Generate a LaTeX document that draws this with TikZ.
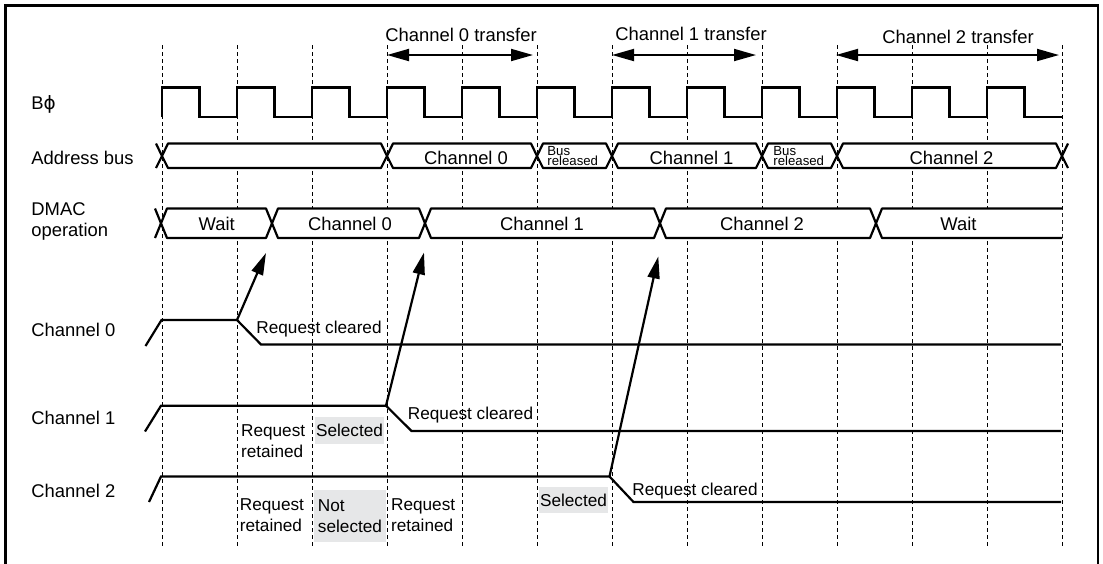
\documentclass[tikz,border=0pt]{standalone}
\usepackage{fontspec}
\setmainfont{Liberation Sans}
\newfontfamily\phifont{DejaVu Sans}
\usetikzlibrary{arrows.meta}
\definecolor{selgray}{HTML}{E6E7E8}

\begin{document}
\begin{tikzpicture}[x=0.5pt, y=-0.5pt, >={Triangle[length=11pt,width=6pt]},
                    every node/.style={inner sep=0pt},
                    lbl/.style={anchor=west, align=left, font=\fontsize{9.2}{10.5}\selectfont},
                    val/.style={font=\fontsize{9.2}{10.5}\selectfont},
                    note/.style={anchor=west, align=left, font=\fontsize{8.6}{10.35}\selectfont},
                    smalltxt/.style={anchor=west, align=left, font=\fontsize{6.6}{5.2}\selectfont},
                    selbox/.style={fill=selgray, align=left, font=\fontsize{8.6}{10.35}\selectfont},
                    sig/.style={line width=1.1pt},
                    bus/.style={sig, line join=round, fill=white},
                    vline/.style={line width=0.5pt, dash pattern=on 2pt off 1.5pt},
                    xfer/.style={<->, line width=0.9pt},
                    reqarrow/.style={->, line width=1.1pt}]
  \useasboundingbox (0,0) rectangle (1103,563);
  \draw[line width=1.2pt] (5.5,570) -- (5.5,5.5) -- (1098,5.5) -- (1098,570);

  \node[selbox, minimum width=34.5pt, minimum height=13.4pt] (sel1) at (349.5,430.7) {Selected};
  \node[selbox, minimum width=35.7pt, minimum height=26.2pt] (nsel2) at (350,516.2) {Not\\selected};
  \node[selbox, minimum width=34.2pt, minimum height=13pt] (sel2) at (573.5,500.3) {Selected};

  \foreach \i in {0,...,12}
    \draw[vline] ({162+75*\i},45) -- ({162+75*\i},546);

  \draw[sig] (162,117) \foreach \i in {0,...,11} {-- ++(0,-29.5) -- ++(37.5,0) -- ++(0,29.5) -- ++(37.5,0)};

  \draw[sig] (156,143.5) -- (162,156) -- (156,168);
  \foreach \a/\b in {162/387,387/537,537/612,612/762,762/837,837/1062}
    \draw[bus] (\a,156) -- ({\a+6},143.5) -- ({\b-6},143.5) -- (\b,156) -- ({\b-6},168) -- ({\a+6},168) -- cycle;
  \draw[sig] (1068,143.5) -- (1062,156) -- (1068,168);

  \draw[sig] (155,208.5) -- (161,223.3) -- (155,238);
  \foreach \a/\b in {161/272,272/425,425/660,660/876}
    \draw[bus] (\a,223.3) -- ({\a+6},208.5) -- ({\b-6},208.5) -- (\b,223.3) -- ({\b-6},238) -- ({\a+6},238) -- cycle;
  \draw[bus] (1062,208.5) -- (882,208.5) -- (876,223.3) -- (882,238) -- (1062,238);

  \draw[sig] (145.5,346) -- (161.5,320) -- (237,320) -- (261,344.5) -- (1061,344.5);
  \draw[sig] (145,431.5) -- (161,405.7) -- (386,405.7) -- (411.5,431) -- (1061,431);
  \draw[sig] (149,502) -- (161,476.5) -- (609.5,476.5) -- (633.5,502) -- (1061,502);

  \node[lbl] (lclk) at (31,104) {B{\phifont ϕ}};
  \node[lbl] (lab) at (31,158) {Address bus};
  \node[lbl] (ldmac) at (31,221) {DMAC\\operation};
  \node[lbl] (lch0) at (31,330) {Channel 0};
  \node[lbl] (lch1) at (31,418) {Channel 1};
  \node[lbl] (lch2) at (31,491) {Channel 2};

  \node[val] (tr0) at (461,35) {Channel 0 transfer};
  \node[val] (tr1) at (691,34) {Channel 1 transfer};
  \node[val] (tr2) at (958,36.5) {Channel 2 transfer};
  \coordinate (tr0a) at (387,55);
  \coordinate (tr0b) at (533,55);
  \coordinate (tr1a) at (612,55);
  \coordinate (tr1b) at (756,55);
  \coordinate (tr2a) at (836,55);
  \coordinate (tr2b) at (1059,55);
  \draw[xfer] (tr0a) -- (tr0b);
  \draw[xfer] (tr1a) -- (tr1b);
  \draw[xfer] (tr2a) -- (tr2b);

  \node[val] (ab0) at (466,158) {Channel 0};
  \node[smalltxt] (abr0) at (547,156) {Bus\\released};
  \node[val] (ab1) at (691.5,158) {Channel 1};
  \node[smalltxt] (abr1) at (773,156) {Bus\\released};
  \node[val] (ab2) at (951.5,158) {Channel 2};

  \node[val] (dm0) at (216.7,223.5) {Wait};
  \node[val] (dm1) at (350,223.5) {Channel 0};
  \node[val] (dm2) at (542,223.5) {Channel 1};
  \node[val] (dm3) at (762,223.5) {Channel 2};
  \node[val] (dm4) at (958.5,223.5) {Wait};

  \coordinate (c0clr) at (237,320);
  \coordinate (c0tip) at (266,253);
  \coordinate (c1clr) at (386,405.7);
  \coordinate (c1tip) at (424,252.5);
  \coordinate (c2clr) at (609.5,476.5);
  \coordinate (c2tip) at (658.3,256.5);
  \draw[reqarrow] (c0clr) -- (c0tip);
  \draw[reqarrow] (c1clr) -- (c1tip);
  \draw[reqarrow] (c2clr) -- (c2tip);

  \node[note] (rc0) at (256,329) {Request cleared};
  \node[note] (rc1) at (407.5,415) {Request cleared};
  \node[note] (rc2) at (632,491) {Request cleared};
  \node[note] (rr1) at (240.7,441.4) {Request\\retained};
  \node[note] (rr2) at (239.5,515.4) {Request\\retained};
  \node[note] (rr3) at (390.7,515.4) {Request\\retained};
\end{tikzpicture}
\end{document}
